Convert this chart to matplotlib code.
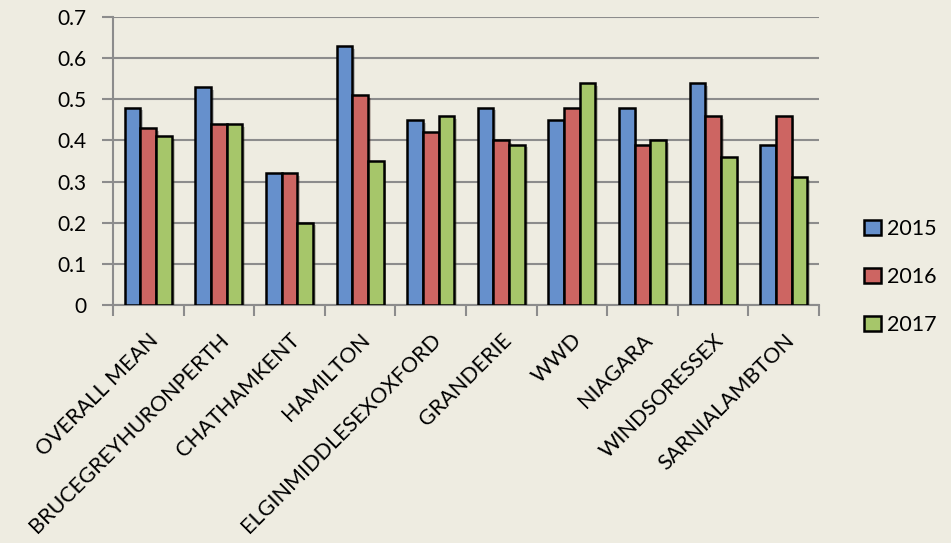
import matplotlib
matplotlib.use("Agg")
import matplotlib.pyplot as plt
import matplotlib.patheffects as pe
import matplotlib.transforms as mtrans
import numpy as np

categories = ["OVERALL MEAN", "BRUCEGREYHURONPERTH", "CHATHAMKENT", "HAMILTON",
              "ELGINMIDDLESEXOXFORD", "GRANDERIE", "WWD", "NIAGARA",
              "WINDSORESSEX", "SARNIALAMBTON"]
series_names = ["2015", "2016", "2017"]
values_2015 = [0.48, 0.53, 0.32, 0.63, 0.45, 0.48, 0.45, 0.48, 0.54, 0.39]
values_2016 = [0.43, 0.44, 0.32, 0.51, 0.42, 0.40, 0.48, 0.39, 0.46, 0.46]
values_2017 = [0.41, 0.44, 0.20, 0.35, 0.46, 0.39, 0.54, 0.40, 0.36, 0.31]
y_ticks = [0, 0.1, 0.2, 0.3, 0.4, 0.5, 0.6, 0.7]

colors = ["#6690CC", "#CD6562", "#A6C66A"]
bg = "#EEECE1"
grid_c = "#8C8C8C"

plt.rcParams["font.family"] = ["Lato", "DejaVu Sans"]

fig = plt.figure(figsize=(9.51, 5.43), dpi=100, facecolor=bg)
ax = fig.add_axes([113 / 951, 1 - 305 / 543, (819 - 113) / 951, (305 - 17) / 543])
ax.set_facecolor(bg)

x = np.arange(len(categories))
bw = 1 / 4.5
shadow = [pe.SimplePatchShadow(offset=(2, -2), alpha=0.25), pe.Normal()]
for i, (vals, col, name) in enumerate(zip([values_2015, values_2016, values_2017], colors, series_names)):
    bars = ax.bar(x + (i - 1) * bw, vals, width=bw, color=col, edgecolor="black",
                  linewidth=1.8, label=name, zorder=3)
    for b in bars:
        b.set_path_effects(shadow)

ax.set_xlim(-0.5, len(categories) - 0.5)
ax.set_ylim(0, 0.7)
ax.set_yticks(y_ticks)
ax.set_yticklabels([f"{t:g}" for t in y_ticks], fontsize=15)
ax.yaxis.grid(True, color=grid_c, linewidth=1.5, zorder=0)
ax.set_axisbelow(True)

ax.set_xticks(np.arange(len(categories) + 1) - 0.5)
ax.set_xticklabels([])
ax.set_xticks(x, minor=True)
ax.set_xticklabels(categories, minor=True, rotation=45, ha="right",
                   va="top", rotation_mode="anchor", fontsize=15.5)
shift = mtrans.ScaledTranslation(-1 / 100, 0, fig.dpi_scale_trans)
for lbl in ax.get_xticklabels(minor=True):
    lbl.set_transform(lbl.get_transform() + shift)
ax.tick_params(axis="x", which="minor", length=0, pad=18)
ax.tick_params(axis="x", which="major", length=8, width=1.5, color=grid_c)
ax.tick_params(axis="y", length=8, width=1.5, color=grid_c, pad=11)

for s in ["top", "right"]:
    ax.spines[s].set_visible(False)
for s in ["left", "bottom"]:
    ax.spines[s].set_color(grid_c)
    ax.spines[s].set_linewidth(1.5)

leg = ax.legend(loc="center left", bbox_to_anchor=(845 / 951, 1 - 277 / 543),
                bbox_transform=fig.transFigure, frameon=False, fontsize=15.5,
                handlelength=0.75, handleheight=0.75, handletextpad=0.3,
                labelspacing=1.3)
for h in leg.legend_handles:
    h.set_path_effects([])
    h.set_linewidth(1.8)

fig.savefig("out.png", dpi=100, facecolor=bg)
